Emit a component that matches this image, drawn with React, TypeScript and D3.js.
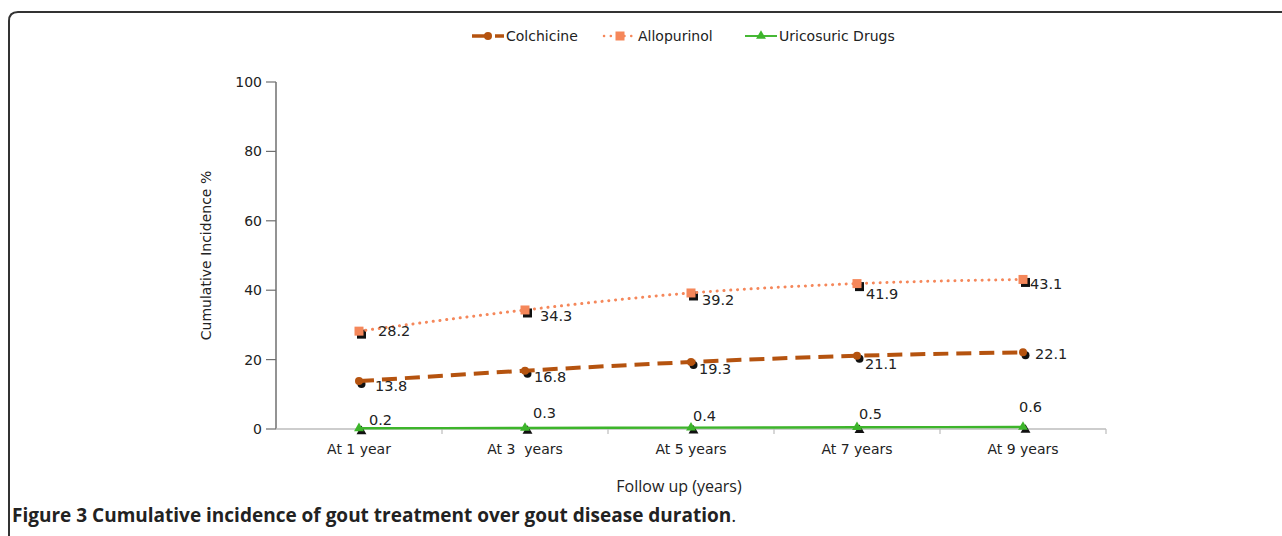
import React from 'react';
import * as d3 from 'd3';

const categories = ['At 1 year', 'At 3  years', 'At 5 years', 'At 7 years', 'At 9 years'];
const colchicine = [13.8, 16.8, 19.3, 21.1, 22.1];
const allopurinol = [28.2, 34.3, 39.2, 41.9, 43.1];
const uricosuric = [0.2, 0.3, 0.4, 0.5, 0.6];
const yTicks = [0, 20, 40, 60, 80, 100];

// hand-placed data label nudges (px), as in the original figure
const colchicineLabelNudge = [[16, 10], [9, 11], [8, 12], [8, 13], [12, 7]];
const allopurinolLabelNudge = [[19, 5], [15, 11], [11, 12], [9, 15], [7, 10]];
const uricosuricLabelNudge = [[10, -3], [8, -10], [2, -7], [2, -8], [-4, -15]];

const W = 1282;
const H = 536;
const FONT = '"DejaVu Sans", Verdana, sans-serif';
const CAPTION_FONT = '"Open Sans", sans-serif';

const x = d3.scaleBand<string>().domain(categories).range([276, 1106]);
const y = d3.scaleLinear().domain([0, 100]).range([429, 82]);
const cx = (c: string) => (x(c) as number) + x.bandwidth() / 2;

const line = d3
  .line<number>()
  .x((_, i) => cx(categories[i]))
  .y(d => y(d))
  .curve(d3.curveMonotoneX);

const series = [
  { name: 'Colchicine', values: colchicine, nudge: colchicineLabelNudge, color: '#B5530F', width: 4, dash: '15,8', cap: 'butt', marker: 'circle' },
  { name: 'Allopurinol', values: allopurinol, nudge: allopurinolLabelNudge, color: '#F5875A', width: 3, dash: '0.1,6.7', cap: 'round', marker: 'square' },
  { name: 'Uricosuric Drugs', values: uricosuric, nudge: uricosuricLabelNudge, color: '#3DB52B', width: 2.4, dash: null, cap: 'butt', marker: 'triangle' },
];

const Marker = ({ kind, px, py, fill }: { kind: string; px: number; py: number; fill: string }) => {
  if (kind === 'circle') return <circle cx={px} cy={py} r={4} fill={fill} />;
  if (kind === 'square') return <rect x={px - 4.5} y={py - 4.5} width={9} height={9} fill={fill} />;
  const tri = d3.symbol(d3.symbolTriangle, 42)() as string;
  return <path d={tri} transform={`translate(${px},${py})`} fill={fill} />;
};

export default function App() {
  return (
    <svg width={W} height={H} style={{ position: 'absolute', left: 0, top: 0, background: '#fff' }}>
      {/* frame */}
      <path d={`M9,${H} L9,21 Q9,12 18,12 L${W},12`} fill="none" stroke="#333" strokeWidth={2} />

      {/* legend */}
      {series.map((s, i) => {
        const lx = [472, 604, 745][i];
        return (
          <g key={s.name} transform={`translate(${lx},36)`}>
            <line x1={0} x2={32} y1={0} y2={0} stroke={s.color} strokeWidth={s.width - 0.5} strokeDasharray={s.dash ?? undefined} strokeLinecap={s.cap as any} />
            <Marker kind={s.marker} px={16} py={0} fill={s.color} />
            <text x={34} y={5} fontFamily={FONT} fontSize={14} fill="#222">{s.name}</text>
          </g>
        );
      })}

      {/* y axis */}
      <line x1={276} x2={276} y1={y(100)} y2={y(0)} stroke="#6f6f6f" strokeWidth={1.5} />
      {yTicks.map(t => (
        <g key={t}>
          <line x1={266} x2={276} y1={y(t)} y2={y(t)} stroke="#6f6f6f" strokeWidth={1.2} />
          <text x={262} y={y(t) + 5} textAnchor="end" fontFamily={FONT} fontSize={14} fill="#222">{t}</text>
        </g>
      ))}
      <text transform={`translate(211,${y(50)}) rotate(-90)`} textAnchor="middle" fontFamily={FONT} fontSize={14} fill="#222">
        Cumulative Incidence %
      </text>

      {/* x axis */}
      <line x1={276} x2={1106} y1={y(0)} y2={y(0)} stroke="#bdbdbd" strokeWidth={1.5} />
      {categories.map(c => (
        <g key={c}>
          <line x1={(x(c) as number) + x.bandwidth()} x2={(x(c) as number) + x.bandwidth()} y1={y(0)} y2={y(0) + 5} stroke="#bdbdbd" strokeWidth={1.2} />
          <text x={cx(c)} y={454} textAnchor="middle" fontFamily={FONT} fontSize={14} fill="#222" style={{ whiteSpace: 'pre' }}>{c}</text>
        </g>
      ))}
      <text x={679} y={492} textAnchor="middle" fontFamily={CAPTION_FONT} fontSize={16} fill="#222">
        Follow up (years)
      </text>

      {/* series */}
      {series.map(s => (
        <g key={s.name}>
          {s.values.map((v, i) => (
            <Marker key={'s' + i} kind={s.marker} px={cx(categories[i]) + 2.5} py={y(v) + 3} fill="#111" />
          ))}
          <path d={line(s.values) as string} fill="none" stroke={s.color} strokeWidth={s.width} strokeDasharray={s.dash ?? undefined} strokeLinecap={s.cap as any} />
          {s.values.map((v, i) => (
            <Marker key={'m' + i} kind={s.marker} px={cx(categories[i])} py={y(v)} fill={s.color} />
          ))}
          {s.values.map((v, i) => (
            <text
              key={'l' + i}
              x={cx(categories[i]) + s.nudge[i][0]}
              y={y(v) + s.nudge[i][1]}
              fontFamily={FONT}
              fontSize={14.5}
              fill="#222"
            >
              {v.toFixed(1)}
            </text>
          ))}
        </g>
      ))}

      {/* caption */}
      <text x={12} y={522} fontFamily={CAPTION_FONT} fontSize={19} fill="#222">
        <tspan fontWeight="bold">Figure 3 Cumulative incidence of gout treatment over gout disease duration</tspan>
        <tspan>.</tspan>
      </text>
    </svg>
  );
}
